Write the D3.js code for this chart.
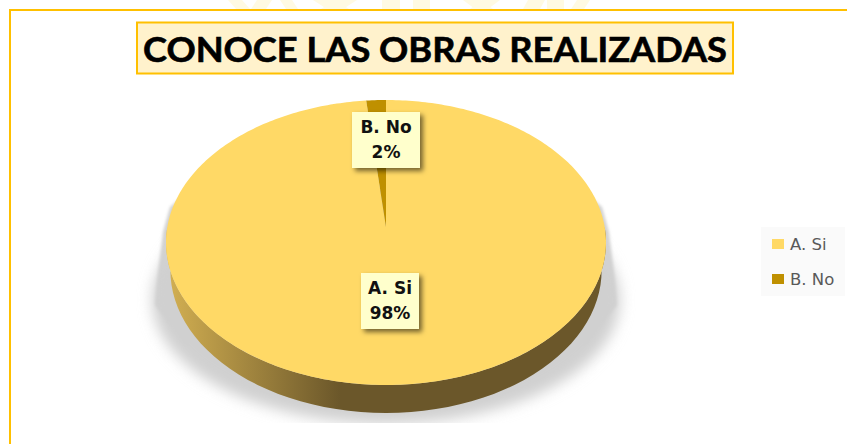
<!DOCTYPE html>
<html>
<head>
<meta charset="utf-8">
<script src="https://d3js.org/d3.v7.min.js"></script>
<style>
    html, body { margin: 0; padding: 0; background: #fff; overflow: hidden; }
    text { font-family: "DejaVu Sans", sans-serif; }
</style>
</head>
<body>
<svg id="chart" width="847" height="444"></svg>
<script>
var categories = ['A. Si', 'B. No'];
var values = [98.4, 1.6];
var percentLabels = ['98%', '2%'];
var colors = ['#ffd966', '#bf9000'];

var svg = d3.select('#chart');
var defs = svg.append('defs');

// 3D look of the pie: disc with perspective
var cx = 386, cy = 227, k = 0.1087, h = 140.8, a = 218.7, depth = 28;

function project(angle, r, dy, s) {
    var u = r * Math.sin(angle), v = r * Math.cos(angle), w = 1 + k * v;
    return [cx + s * a * u / w, cy - h * v / w + dy];
}

function slicePath(d, dy, s) {
    var n = Math.max(4, Math.ceil((d.endAngle - d.startAngle) * 60));
    var pts = d3.range(n + 1).map(function (i) {
        return project(d.startAngle + (d.endAngle - d.startAngle) * i / n, 1, dy, s);
    });
    pts.push(project(0, 0, dy, s));
    return d3.line()(pts) + 'Z';
}

var pie = d3.pie().sort(null)(values);

// Filters and gradient
defs.append('filter').attr('id', 'blur').attr('x', '-20%').attr('y', '-30%').attr('width', '140%').attr('height', '160%')
    .append('feGaussianBlur').attr('stdDeviation', 7);
defs.append('filter').attr('id', 'blurSmall').attr('x', '-20%').attr('y', '-30%').attr('width', '140%').attr('height', '160%')
    .append('feGaussianBlur').attr('stdDeviation', 1.5);
var drop = defs.append('filter').attr('id', 'drop').attr('x', '-30%').attr('y', '-30%').attr('width', '170%').attr('height', '170%');
drop.append('feDropShadow').attr('dx', 3).attr('dy', 3).attr('stdDeviation', 2.5)
    .attr('flood-color', '#000').attr('flood-opacity', 0.55);
defs.append('clipPath').attr('id', 'shadowClip').append('rect')
    .attr('x', 130).attr('y', 190).attr('width', 520).attr('height', 233);

var wallGrad = defs.append('linearGradient').attr('id', 'wall')
    .attr('gradientUnits', 'userSpaceOnUse').attr('x1', 170).attr('x2', 340).attr('y1', 0).attr('y2', 0);
wallGrad.append('stop').attr('offset', 0).attr('stop-color', '#d1ae51');
wallGrad.append('stop').attr('offset', 1).attr('stop-color', '#6b572a');

// Faint watermark behind the top of the frame
var watermark = [[228, 14, 8], [257, 15, -6], [280, 12, 6], [313, 22, 14], [335, 22, -14], [382, 18, 0], [413, 17, 0],
    [463, 18, 12], [482, 18, -12], [528, 17, -5], [547, 17, 0], [577, 13, -6]];
svg.selectAll('path.watermark').data(watermark).enter().append('path')
    .attr('class', 'watermark')
    .attr('d', function (d) {
        return d3.line()([[d[0], 0], [d[0] + d[1], 0], [d[0] + d[1] + d[2], 9], [d[0] + d[2], 9]]) + 'Z';
    })
    .attr('fill', '#fffae3');

// Frame
svg.append('path').attr('d', d3.line()([[10, 444], [10, 10], [847, 10]]))
    .attr('fill', 'none').attr('stroke', '#ffc000').attr('stroke-width', 2);

// Title
svg.append('rect').attr('x', 137).attr('y', 22.5).attr('width', 596).attr('height', 51)
    .attr('fill', '#fff2cc').attr('stroke', '#ffc000').attr('stroke-width', 2);
svg.append('text').attr('x', 435).attr('y', 61.5).attr('text-anchor', 'middle')
    .style('font-family', 'Lato, sans-serif')
    .attr('font-size', 35).attr('font-weight', 700).attr('fill', '#000')
    .attr('stroke', '#000').attr('stroke-width', 0.6)
    .attr('textLength', 584).attr('lengthAdjust', 'spacingAndGlyphs')
    .text('CONOCE LAS OBRAS REALIZADAS');

// Shadow under the pie: sharp sides higher up, soft towards the bottom
var shadow = svg.append('g').attr('clip-path', 'url(#shadowClip)');
shadow.append('path')
    .attr('d', d3.line()([[184, 195], [170, 207], [163, 232], [157, 280], [155, 305], [185, 345],
        [585, 345], [617, 305], [615, 280], [609, 232], [602, 207], [588, 195]]) + 'Z')
    .attr('fill', '#d2d2d2').attr('filter', 'url(#blurSmall)');
shadow.append('ellipse')
    .attr('cx', 386).attr('cy', 300).attr('rx', 234).attr('ry', 124)
    .attr('fill', '#d0d0d0').attr('filter', 'url(#blur)');

// Side wall (near half), then the top face slices
var wallAngles = d3.range(90, 271, 3).map(function (deg) { return deg * Math.PI / 180; });
var topEdge = wallAngles.map(function (t) { return project(t, 1, 0, 1); });
var bottomEdge = wallAngles.map(function (t) { return project(t, 1, depth, 0.98); }).reverse();
svg.append('path').attr('d', d3.line()(topEdge.concat(bottomEdge)) + 'Z').attr('fill', 'url(#wall)');

svg.selectAll('path.slice').data(pie).enter().append('path')
    .attr('class', 'slice')
    .attr('d', function (d) { return slicePath(d, 0, 1); })
    .attr('fill', function (d, i) { return colors[i]; });

// Data labels
var labelPos = [[390, 301], [386, 140]];
var labels = svg.selectAll('g.label').data(categories).enter().append('g')
    .attr('class', 'label')
    .attr('transform', function (d, i) { return 'translate(' + labelPos[i] + ')'; });
labels.append('rect')
    .attr('x', function (d, i) { return i === 0 ? -29 : -34; }).attr('y', -28)
    .attr('width', function (d, i) { return i === 0 ? 58 : 68; }).attr('height', 56)
    .attr('fill', '#ffffcc').attr('filter', 'url(#drop)');
labels.append('text').attr('text-anchor', 'middle').attr('y', -7)
    .attr('font-size', 17).attr('font-weight', 700).attr('fill', '#111')
    .text(function (d) { return d; });
labels.append('text').attr('text-anchor', 'middle').attr('y', 18)
    .attr('font-size', 17).attr('font-weight', 700).attr('fill', '#111')
    .text(function (d, i) { return percentLabels[i]; });

// Legend
svg.append('rect').attr('x', 761).attr('y', 227).attr('width', 84).attr('height', 69).attr('fill', '#fafafa');
var legend = svg.selectAll('g.legend').data(categories).enter().append('g')
    .attr('class', 'legend')
    .attr('transform', function (d, i) { return 'translate(772,' + (244 + i * 35) + ')'; });
legend.append('rect').attr('x', 0).attr('y', -5).attr('width', 12).attr('height', 10)
    .attr('fill', function (d, i) { return colors[i]; });
legend.append('text').attr('x', 18).attr('y', 5.5)
    .attr('font-size', 16.5).attr('fill', '#595959')
    .text(function (d) { return d; });
</script>
</body>
</html>
